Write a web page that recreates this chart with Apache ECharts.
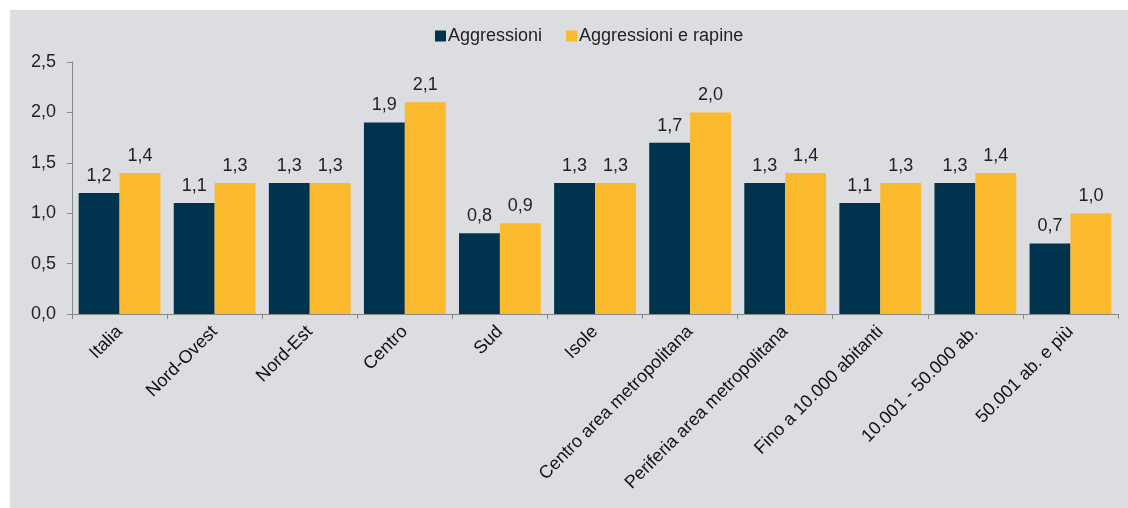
<!DOCTYPE html>
<html>
<head>
<meta charset="utf-8">
<script src="https://cdn.jsdelivr.net/npm/echarts@6/dist/echarts.min.js"></script>
<style>
html,body{margin:0;padding:0;background:#ffffff;}
#chart{position:absolute;left:10px;top:10px;width:1118px;height:498px;background:#dcdde0;}
</style>
</head>
<body>
<div id="chart"></div>
<script>
const categories = ["Italia","Nord-Ovest","Nord-Est","Centro","Sud","Isole","Centro area metropolitana","Periferia area metropolitana","Fino a 10.000 abitanti","10.001 - 50.000 ab.","50.001 ab. e più"];
const aggressioni = [1.2,1.1,1.3,1.9,0.8,1.3,1.7,1.3,1.1,1.3,0.7];
const aggressioniRapine = [1.4,1.3,1.3,2.1,0.9,1.3,2.0,1.4,1.3,1.4,1.0];
const yTicks = [0,0.5,1,1.5,2,2.5];

const fmt = v => Number(v).toFixed(1).replace('.', ',');
const font = 'Liberation Sans, Arial, sans-serif';
const chart = echarts.init(document.getElementById('chart'));
const lbl = {show:true, position:'top', distance:8, color:'#222', fontSize:18, fontFamily:font, formatter:p=>fmt(p.value)};
chart.setOption({
  animation:false,
  textStyle:{fontFamily:font},
  legend:{top:12, left:420, icon:'rect', itemWidth:11, itemHeight:11, itemGap:24,
    textStyle:{color:'#222', fontSize:18, fontFamily:font, padding:[0,0,0,-3]},
    data:['Aggressioni','Aggressioni e rapine']},
  grid:{left:62, right:10, top:52, bottom:194, containLabel:false},
  xAxis:{type:'category', data:categories,
    axisLine:{lineStyle:{color:'#888', width:1}},
    axisTick:{show:true, length:5, lineStyle:{color:'#888'}},
    axisLabel:{rotate:45, interval:0, color:'#111', fontSize:18, fontFamily:font, margin:15}},
  yAxis:{type:'value', min:0, max:2.5, interval:0.5,
    axisLine:{show:true, lineStyle:{color:'#888', width:1}},
    axisTick:{show:true, length:5, lineStyle:{color:'#888'}},
    splitLine:{show:false},
    axisLabel:{color:'#222', fontSize:18, fontFamily:font, margin:16, formatter:v=>fmt(v)}},
  series:[
    {name:'Aggressioni', type:'bar', data:aggressioni, barGap:'0%', barCategoryGap:'14%',
      itemStyle:{color:'#00334e'}, label:lbl},
    {name:'Aggressioni e rapine', type:'bar', data:aggressioniRapine,
      itemStyle:{color:'#fbb92d'}, label:lbl}
  ]
});
</script>
</body>
</html>
